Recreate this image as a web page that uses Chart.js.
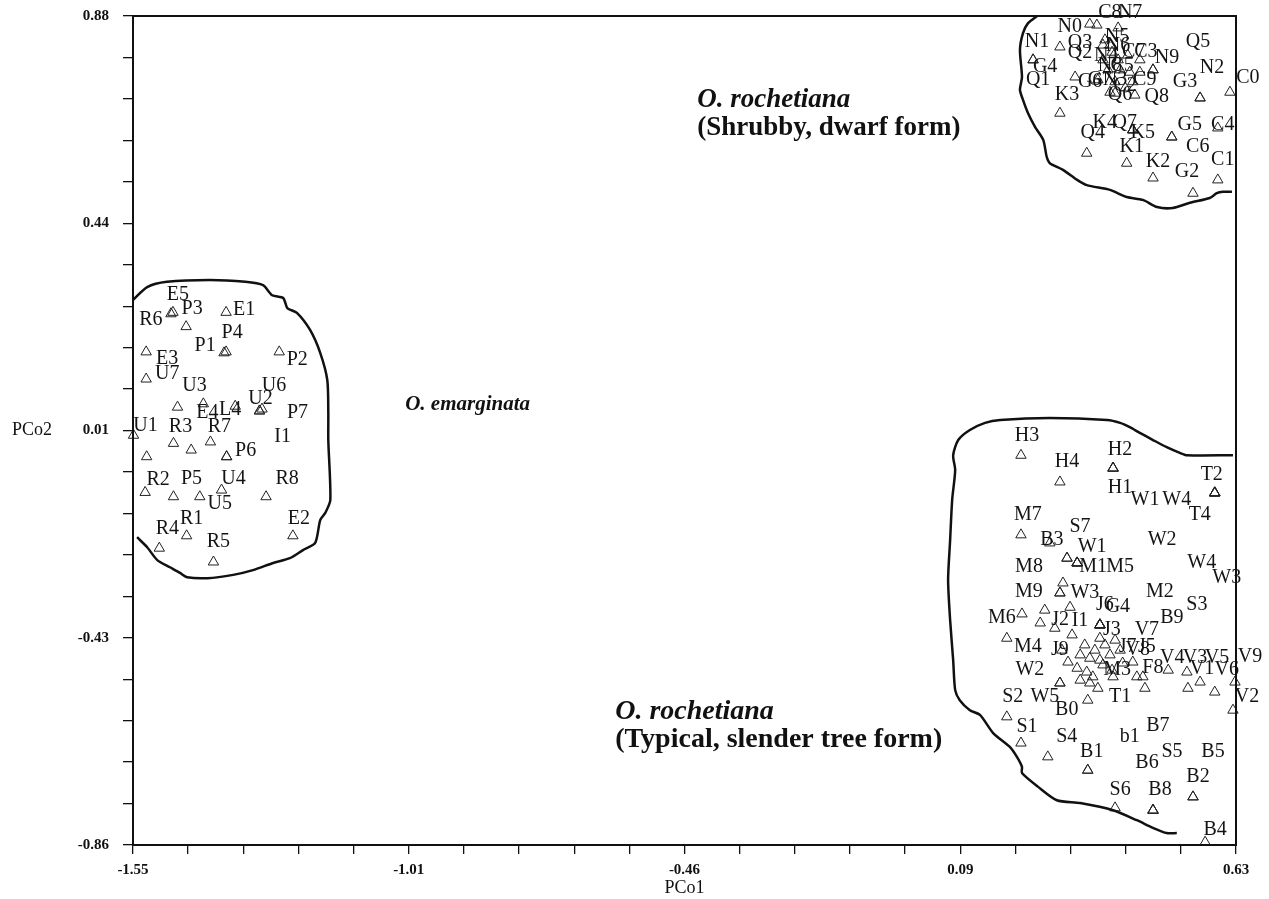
<!DOCTYPE html>
<html>
<head>
<meta charset="utf-8">
<script src="https://cdn.jsdelivr.net/npm/chart.js@4"></script>
<style>
  body { margin: 0; background: #fff; }
  canvas { display: block; }
</style>
</head>
<body>
<canvas id="pco-chart" width="1269" height="899"></canvas>
<script>
// axis ranges and tick labels
const xMin = -1.55, xMax = 0.63;
const yMin = -0.86, yMax = 0.88;
const xTickLabels = ['-1.55', '-1.01', '-0.46', '0.09', '0.63'];
const yTickLabels = ['-0.86', '-0.43', '0.01', '0.44', '0.88'];

// O. emarginata: [name, PCo1, PCo2]
const emarginataPoints = [
    ['E5', -1.471, 0.258], ['P3', -1.445, 0.228], ['R6', -1.475, 0.255], ['E1', -1.366, 0.258],
    ['P4', -1.366, 0.175], ['P1', -1.370, 0.173], ['E3', -1.524, 0.175], ['P2', -1.261, 0.175],
    ['U7', -1.524, 0.118], ['U3', -1.462, 0.059], ['U6', -1.295, 0.055], ['U2', -1.300, 0.051],
    ['E4', -1.411, 0.066], ['L4', -1.348, 0.061], ['P7', -1.300, 0.051], ['U1', -1.549, 0.000],
    ['R3', -1.470, -0.017], ['R7', -1.397, -0.014], ['I1', -1.365, -0.045], ['P6', -1.365, -0.045],
    ['', -1.435, -0.031], ['', -1.523, -0.045], ['R2', -1.526, -0.120], ['P5', -1.470, -0.129],
    ['U5', -1.418, -0.129], ['U4', -1.375, -0.115], ['R8', -1.287, -0.129], ['R1', -1.444, -0.211],
    ['R4', -1.498, -0.237], ['E2', -1.234, -0.211], ['R5', -1.391, -0.266]
];
// label placement (px from the point), same order
const emarginataShift = [
    [5, -18], [6, -18], [-20, 6], [18, -3],
    [6, -19], [-19, -7], [21, 7], [18, 8],
    [21, -5], [17, -21], [12, -23], [1, -12],
    [4, 9], [-5, 4], [38, 2], [12, -10],
    [7, -17], [9, -15], [56, -20], [19, -6],
    [0, 0], [0, 0], [13, -13], [18, -18],
    [20, 7], [12, -11], [21, -18], [5, -17],
    [8, -19], [6, -17], [5, -20]
];

// O. rochetiana, shrubby dwarf form
const shrubbyPoints = [
    ['N0', 0.341, 0.863], ['C8', 0.355, 0.861], ['N7', 0.397, 0.855], ['N1', 0.282, 0.815],
    ['Q3', 0.367, 0.819], ['N5', 0.381, 0.819], ['Q5', 0.466, 0.767], ['N9', 0.466, 0.767],
    ['G3', 0.559, 0.708], ['N2', 0.559, 0.708], ['C0', 0.618, 0.720], ['Q2', 0.367, 0.788],
    ['G4', 0.229, 0.788], ['Q1', 0.229, 0.788], ['G6', 0.312, 0.752], ['K3', 0.282, 0.676],
    ['C9', 0.426, 0.742], ['Q6', 0.391, 0.718], ['Q8', 0.430, 0.714], ['K4', 0.426, 0.641],
    ['Q7', 0.426, 0.641], ['K5', 0.426, 0.641], ['Q4', 0.335, 0.592], ['K1', 0.414, 0.571],
    ['G5', 0.503, 0.626], ['C6', 0.503, 0.626], ['C4', 0.594, 0.645], ['K2', 0.466, 0.540],
    ['C1', 0.594, 0.536], ['G2', 0.545, 0.508], ['', 0.371, 0.830], ['N6', 0.385, 0.804],
    ['N4', 0.397, 0.788], ['C7', 0.416, 0.798], ['C3', 0.440, 0.788], ['N8', 0.377, 0.767],
    ['C5', 0.401, 0.767], ['', 0.420, 0.762], ['G7', 0.357, 0.746], ['N3', 0.391, 0.742],
    ['C2', 0.411, 0.729], ['', 0.381, 0.720], ['', 0.440, 0.762]
];
const shrubbyShift = [
    [-20, 3], [13, -12], [12, -15], [-23, -5],
    [-23, -2], [7, -8], [45, -28], [14, -12],
    [-15, -16], [12, -30], [18, -14], [-23, -7],
    [12, 7], [5, 20], [15, 5], [7, -18],
    [12, -2], [5, 2], [22, 2], [-28, -7],
    [-8, -7], [10, 3], [6, -20], [5, -16],
    [18, -12], [26, 10], [5, -3], [5, -16],
    [5, -20], [-6, -21], [0, 0], [6, -6],
    [-12, -4], [6, -3], [6, -8], [2, -4],
    [2, -4], [0, 0], [2, 0], [0, -2],
    [0, -2], [0, 0], [0, 0]
];

// O. rochetiana, typical slender tree form
const typicalPoints = [
    ['H3', 0.205, -0.042], ['H4', 0.282, -0.098], ['H2', 0.387, -0.069], ['H1', 0.387, -0.069],
    ['W1', 0.387, -0.069], ['T2', 0.588, -0.121], ['W4', 0.588, -0.121], ['T4', 0.588, -0.121],
    ['W4', 0.588, -0.121], ['W3', 0.588, -0.121], ['M7', 0.205, -0.209], ['B3', 0.262, -0.226],
    ['S7', 0.296, -0.258], ['M8', 0.296, -0.258], ['W1', 0.316, -0.268], ['M1', 0.316, -0.268],
    ['M5', 0.316, -0.268], ['W2', 0.316, -0.268], ['', 0.288, -0.310], ['M9', 0.282, -0.331],
    ['W3', 0.282, -0.331], ['M6', 0.207, -0.375], ['', 0.252, -0.367], ['J2', 0.243, -0.394],
    ['I1', 0.302, -0.361], ['J6', 0.361, -0.398], ['G4', 0.361, -0.398], ['M2', 0.361, -0.398],
    ['S3', 0.361, -0.398], ['B9', 0.361, -0.398], ['V7', 0.361, -0.398], ['M4', 0.177, -0.426],
    ['', 0.272, -0.405], ['J9', 0.286, -0.451], ['', 0.306, -0.419], ['', 0.298, -0.476],
    ['', 0.316, -0.489], ['', 0.335, -0.497], ['', 0.347, -0.507], ['', 0.367, -0.482],
    ['M3', 0.385, -0.493], ['J7', 0.406, -0.478], ['V8', 0.426, -0.476], ['J5', 0.434, -0.507],
    ['', 0.341, -0.520], ['', 0.357, -0.531], ['', 0.322, -0.514], ['J3', 0.361, -0.426],
    ['', 0.331, -0.440], ['', 0.351, -0.451], ['', 0.371, -0.440], ['', 0.341, -0.468],
    ['', 0.361, -0.472], ['', 0.381, -0.461], ['', 0.391, -0.430], ['', 0.322, -0.461],
    ['', 0.401, -0.451], ['W5', 0.282, -0.520], ['W2', 0.282, -0.520], ['B0', 0.337, -0.556],
    ['T1', 0.387, -0.507], ['S2', 0.177, -0.591], ['S1', 0.205, -0.646], ['S4', 0.258, -0.675],
    ['B1', 0.337, -0.703], ['b1', 0.337, -0.703], ['B2', 0.545, -0.759], ['B5', 0.545, -0.759],
    ['S6', 0.391, -0.782], ['B8', 0.466, -0.787], ['S5', 0.466, -0.787], ['B6', 0.466, -0.787],
    ['B7', 0.450, -0.531], ['B4', 0.569, -0.854], ['V4', 0.496, -0.493], ['F8', 0.446, -0.507],
    ['V3', 0.533, -0.497], ['V1', 0.535, -0.531], ['V5', 0.559, -0.518], ['V6', 0.588, -0.539],
    ['V9', 0.628, -0.518], ['V2', 0.624, -0.577]
];
const typicalShift = [
    [6, -20], [7, -20], [7, -18], [7, 20],
    [32, 32], [-3, -18], [-38, 7], [-15, 22],
    [-13, 70], [12, 85], [7, -20], [2, -3],
    [13, -31], [-38, 9], [15, -16], [16, 4],
    [43, 4], [85, -23], [0, 0], [-31, -1],
    [25, 0], [-20, 4], [0, 0], [20, -3],
    [10, 13], [5, -20], [18, -18], [60, -33],
    [97, -20], [72, -7], [47, 5], [21, 9],
    [0, 0], [-2, 0], [0, 0], [0, 0],
    [0, 0], [0, 0], [0, 0], [0, 0],
    [5, 0], [5, -16], [5, -12], [10, -30],
    [0, 0], [0, 0], [0, 0], [12, -8],
    [0, 0], [0, 0], [0, 0], [0, 0],
    [0, 0], [0, 0], [0, 0], [0, 0],
    [0, 0], [-15, 14], [-30, -13], [-21, 10],
    [7, 20], [6, -20], [6, -16], [19, -20],
    [4, -18], [42, -33], [5, -20], [20, -45],
    [5, -18], [7, -20], [19, -58], [-6, -47],
    [13, 37], [10, -12], [4, -12], [10, -9],
    [8, -14], [14, -20], [17, -24], [12, -22],
    [15, -25], [14, -13]
];

// hand-drawn group outlines, in PCo units
const emarginataOutline = [
    [-1.550, 0.284], [-1.522, 0.311], [-1.483, 0.322], [-1.398, 0.326], [-1.328, 0.322],
    [-1.293, 0.315], [-1.275, 0.294], [-1.253, 0.288], [-1.245, 0.267], [-1.226, 0.257],
    [-1.200, 0.221], [-1.180, 0.173], [-1.166, 0.116], [-1.164, 0.047], [-1.164, -0.010],
    [-1.160, -0.136], [-1.170, -0.163], [-1.180, -0.178], [-1.190, -0.226], [-1.214, -0.241],
    [-1.240, -0.258], [-1.273, -0.268], [-1.313, -0.283], [-1.352, -0.293], [-1.403, -0.300],
    [-1.443, -0.298], [-1.457, -0.289], [-1.477, -0.277], [-1.502, -0.262], [-1.522, -0.235],
    [-1.542, -0.214]
];
const shrubbyOutline = [
    [0.237, 0.880], [0.219, 0.865], [0.209, 0.844], [0.203, 0.809], [0.207, 0.752],
    [0.203, 0.725], [0.209, 0.704], [0.219, 0.676], [0.233, 0.647], [0.249, 0.620],
    [0.256, 0.584], [0.262, 0.571], [0.288, 0.557], [0.316, 0.536], [0.335, 0.525],
    [0.381, 0.515], [0.414, 0.500], [0.446, 0.494], [0.474, 0.479], [0.505, 0.477],
    [0.539, 0.488], [0.578, 0.498], [0.592, 0.508], [0.604, 0.511], [0.622, 0.511]
];
const typicalOutline = [
    [0.624, -0.042], [0.533, -0.042], [0.519, -0.037], [0.493, -0.025], [0.466, -0.010],
    [0.440, 0.005], [0.420, 0.017], [0.401, 0.026], [0.375, 0.032], [0.262, 0.036],
    [0.164, 0.032], [0.134, 0.026], [0.104, 0.011], [0.081, -0.010], [0.071, -0.042],
    [0.075, -0.073], [0.069, -0.136], [0.065, -0.220], [0.061, -0.304], [0.065, -0.388],
    [0.071, -0.472], [0.075, -0.535], [0.084, -0.556], [0.104, -0.577], [0.124, -0.587],
    [0.150, -0.625], [0.183, -0.654], [0.197, -0.675], [0.207, -0.696], [0.207, -0.709],
    [0.239, -0.738], [0.276, -0.766], [0.322, -0.772], [0.387, -0.787], [0.434, -0.808],
    [0.466, -0.824], [0.493, -0.835], [0.513, -0.835]
];

// group captions: [text, PCo1, PCo2, italic, font size]
const groupCaptions = [
    ['O. rochetiana', -0.435, 0.704, true, 27],
    ['(Shrubby, dwarf form)', -0.435, 0.645, false, 27],
    ['O. emarginata', -1.012, 0.064, true, 21],
    ['O. rochetiana', -0.597, -0.581, true, 28],
    ['(Typical, slender tree form)', -0.597, -0.640, false, 28]
];

const SERIF = '"Liberation Serif", "Times New Roman", serif';

function outlineDataset(points) {
    return {
        data: points.map(p => ({ x: p[0], y: p[1] })),
        showLine: true,
        borderColor: '#111',
        borderWidth: 2.5,
        pointRadius: 0,
        tension: 0.25,
        clip: false
    };
}

function pointDataset(points, shifts) {
    return {
        data: points.map(p => ({ x: p[1], y: p[2] })),
        names: points.map(p => p[0]),
        shifts: shifts,
        pointStyle: 'triangle',
        pointRadius: 6,
        borderWidth: 1,
        borderColor: '#222',
        backgroundColor: 'rgba(0,0,0,0)',
        clip: false
    };
}

function evenTicks(min, max) {
    return Array.from({ length: 21 }, (_, i) => ({ value: min + (max - min) * i / 20 }));
}

const pointLabels = {
    id: 'pointLabels',
    afterDatasetsDraw(chart) {
        const ctx = chart.ctx;
        ctx.save();
        ctx.font = '20px ' + SERIF;
        ctx.fillStyle = '#141414';
        ctx.textAlign = 'center';
        ctx.textBaseline = 'middle';
        chart.data.datasets.forEach((ds, i) => {
            if (!ds.names) return;
            chart.getDatasetMeta(i).data.forEach((el, j) => {
                const name = ds.names[j];
                if (!name) return;
                const s = ds.shifts[j] || [0, 0];
                ctx.fillText(name, el.x + s[0], el.y + s[1]);
            });
        });
        ctx.restore();
    }
};

const captionsAndFrame = {
    id: 'captionsAndFrame',
    afterDraw(chart) {
        const ctx = chart.ctx;
        const { left, right, top, bottom } = chart.chartArea;
        const xs = chart.scales.x, ys = chart.scales.y;
        ctx.save();
        ctx.strokeStyle = '#111';
        ctx.lineWidth = 2;
        ctx.strokeRect(left, top, right - left, bottom - top);

        ctx.fillStyle = '#111';
        ctx.textBaseline = 'middle';
        ctx.textAlign = 'left';
        groupCaptions.forEach(c => {
            ctx.font = (c[3] ? 'italic bold ' : 'bold ') + c[4] + 'px ' + SERIF;
            ctx.fillText(c[0], xs.getPixelForValue(c[1]), ys.getPixelForValue(c[2]));
        });

        ctx.font = '18px ' + SERIF;
        ctx.textAlign = 'center';
        ctx.fillText('PCo1', xs.getPixelForValue(-0.46), 888);
        ctx.textAlign = 'left';
        ctx.fillText('PCo2', 12, ys.getPixelForValue(0.01));
        ctx.restore();
    }
};

const tickFont = { family: SERIF, size: 15, weight: 'bold' };

new Chart(document.getElementById('pco-chart'), {
    type: 'scatter',
    data: {
        datasets: [
            outlineDataset(emarginataOutline),
            outlineDataset(shrubbyOutline),
            outlineDataset(typicalOutline),
            pointDataset(emarginataPoints, emarginataShift),
            pointDataset(shrubbyPoints, shrubbyShift),
            pointDataset(typicalPoints, typicalShift)
        ]
    },
    options: {
        responsive: false,
        animation: false,
        layout: { padding: { top: 16, right: 33, left: 0, bottom: 0 } },
        plugins: {
            legend: { display: false },
            tooltip: { enabled: false }
        },
        scales: {
            x: {
                type: 'linear',
                min: xMin,
                max: xMax,
                afterBuildTicks: scale => { scale.ticks = evenTicks(xMin, xMax); },
                afterFit: scale => {
                    scale.height = 54;
                    scale.paddingLeft = 0;
                    scale.paddingRight = 0;
                },
                ticks: {
                    autoSkip: false,
                    maxRotation: 0,
                    padding: 7,
                    color: '#111',
                    font: tickFont,
                    callback: (v, i) => (i % 5 === 0 ? xTickLabels[i / 5] : '')
                },
                grid: { drawOnChartArea: false, color: '#111', lineWidth: 1.3, tickLength: 9 },
                border: { display: true, color: '#111', width: 2 }
            },
            y: {
                type: 'linear',
                min: yMin,
                max: yMax,
                afterBuildTicks: scale => { scale.ticks = evenTicks(yMin, yMax); },
                afterFit: scale => {
                    scale.width = 133;
                    scale.paddingTop = 0;
                    scale.paddingBottom = 0;
                },
                ticks: {
                    autoSkip: false,
                    padding: 14,
                    color: '#111',
                    font: tickFont,
                    callback: (v, i) => (i % 5 === 0 ? yTickLabels[i / 5] : '')
                },
                grid: { drawOnChartArea: false, color: '#111', lineWidth: 1.3, tickLength: 10 },
                border: { display: true, color: '#111', width: 2 }
            }
        }
    },
    plugins: [pointLabels, captionsAndFrame]
});
</script>
</body>
</html>
